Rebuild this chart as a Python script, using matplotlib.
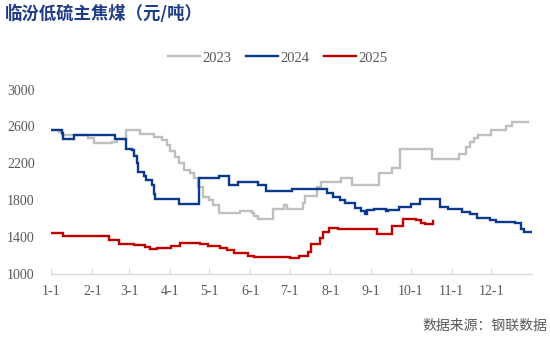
import matplotlib
matplotlib.use("Agg")
import matplotlib.pyplot as plt

# Day-of-year (0 = Jan 1) at which each price level starts, and the level (yuan/ton)
days_2023 = [0, 6, 8, 28, 32, 46, 50, 57, 67, 78, 84, 88, 90, 94, 97, 101, 105, 108,
             111, 115, 120, 123, 127, 143, 152, 154, 157, 168, 177, 179, 191, 193,
             202, 205, 220, 228, 249, 259, 265, 289, 310, 315, 318, 321, 324, 334,
             345, 350, 362]
vals_2023 = [2560, 2540, 2510, 2475, 2420, 2435, 2460, 2560, 2520, 2490, 2450, 2400,
             2330, 2270, 2200, 2130, 2100, 2040, 1940, 1840, 1800, 1750, 1660, 1680,
             1660, 1625, 1600, 1700, 1750, 1700, 1770, 1850, 1940, 2000, 2040, 1960,
             2100, 2150, 2350, 2250, 2300, 2380, 2430, 2470, 2510, 2560, 2600, 2650,
             2650]

days_2024 = [0, 8, 9, 17, 48, 57, 61, 63, 65, 66, 70, 72, 76, 78, 79, 97, 112, 127,
             135, 142, 157, 163, 183, 209, 214, 219, 223, 231, 235, 238, 240, 245,
             254, 256, 264, 273, 280, 295, 301, 312, 318, 323, 333, 338, 352, 357,
             359, 365]
vals_2024 = [2560, 2530, 2460, 2510, 2460, 2360, 2340, 2280, 2200, 2110, 2060, 2020,
             1960, 1870, 1810, 1760, 2040, 2060, 1960, 2000, 1960, 1900, 1920, 1880,
             1840, 1800, 1770, 1720, 1680, 1650, 1690, 1700, 1680, 1690, 1730, 1760,
             1810, 1730, 1710, 1670, 1650, 1610, 1590, 1560, 1550, 1490, 1450, 1450]

days_2025 = [0, 9, 44, 51, 63, 71, 75, 80, 91, 98, 113, 119, 128, 133, 139, 149, 154,
             181, 188, 195, 197, 204, 206, 211, 218, 247, 259, 267, 273, 277, 281,
             284, 288, 290]
vals_2025 = [1440, 1410, 1370, 1330, 1310, 1290, 1275, 1280, 1300, 1335, 1320, 1300,
             1280, 1255, 1230, 1200, 1180, 1170, 1200, 1240, 1330, 1395, 1455, 1500,
             1490, 1430, 1515, 1595, 1600, 1580, 1555, 1545, 1545, 1570]

month_starts = [0, 31, 59, 90, 120, 151, 181, 212, 243, 273, 304, 334]
month_labels = ["1-1", "2-1", "3-1", "4-1", "5-1", "6-1", "7-1", "8-1", "9-1",
                "10-1", "11-1", "12-1"]
y_ticks = [1000, 1400, 1800, 2200, 2600, 3000]

series = [
    ("2023", days_2023, vals_2023, "#BFBFBF"),
    ("2024", days_2024, vals_2024, "#0B3A8C"),
    ("2025", days_2025, vals_2025, "#C00000"),
]

fig = plt.figure(figsize=(5.5, 3.41), dpi=100)
ax = fig.add_axes([0.0936, 0.1965, 0.8734, 0.541])

for name, d, v, c in series:
    ax.plot(d, v, drawstyle="steps-post", color=c, lw=1.7, label=name,
            solid_joinstyle="miter")

ax.set_xlim(0, 365)
ax.set_ylim(1000, 3000)
ax.set_xticks(month_starts)
ax.set_xticklabels(month_labels)
ax.set_yticks(y_ticks)

serif = ["Liberation Serif", "DejaVu Serif"]
for lab in ax.get_xticklabels() + ax.get_yticklabels():
    lab.set_fontfamily(serif)
    lab.set_fontsize(10)
    lab.set_color("#595959")

for s in ("left", "right", "top"):
    ax.spines[s].set_visible(False)
ax.spines["bottom"].set_color("#D9D9D9")
ax.spines["bottom"].set_linewidth(1.0)
ax.tick_params(axis="x", direction="in", length=4, color="#D9D9D9", pad=8)
ax.tick_params(axis="y", length=0, pad=12)

leg = fig.legend(loc="center", bbox_to_anchor=(0.505, 0.83), ncol=3, frameon=False,
                 handlelength=2.2, columnspacing=1.0, handletextpad=0.15,
                 prop={"family": serif, "size": 10.5})
for t in leg.get_texts():
    t.set_color("#595959")

fig.text(0.008, 0.958, "临汾低硫主焦煤（元/吨）", fontsize=12.5, fontweight="bold",
         color="#1F3C88", family=["Noto Sans CJK SC", "DejaVu Sans"],
         ha="left", va="center")
fig.text(0.995, 0.044, "数据来源：钢联数据", fontsize=10, color="#595959",
         family=["Noto Sans CJK SC", "DejaVu Sans"], ha="right", va="center")

fig.savefig("out.png", dpi=100)
